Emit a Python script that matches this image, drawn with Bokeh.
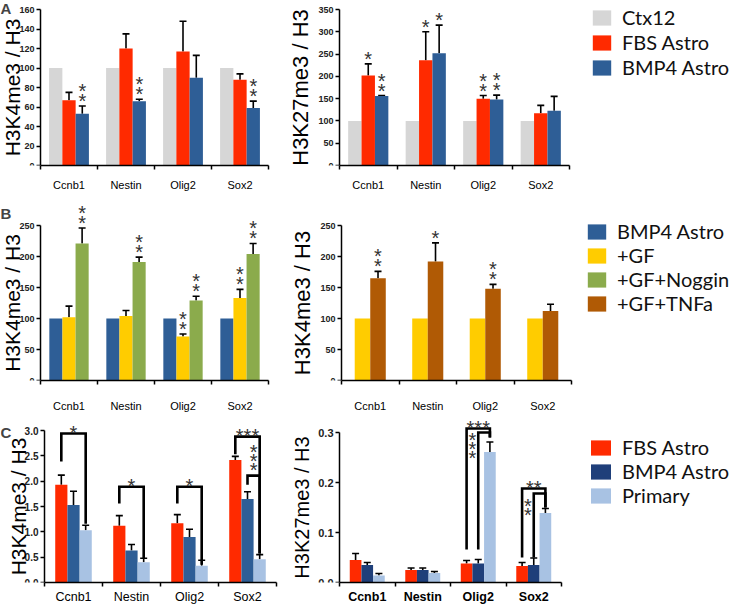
from bokeh.plotting import figure
from bokeh.models import (Range1d, FixedTicker, NumeralTickFormatter, Whisker, TeeHead,
                          ColumnDataSource, Legend, LegendItem, Label)
from bokeh.layouts import column, row
from bokeh.embed import file_html
from bokeh.resources import INLINE
from bokeh.core.properties import value

genes = ["Ccnb1", "Nestin", "Olig2", "Sox2"]

# ---------- Panel A, left: H3K4me3 / H3 ----------
a_series = ["Ctx12", "FBS Astro", "BMP4 Astro"]
a_k4_ctx = [100, 100, 100, 100]
a_k4_fbs = [67, 120, 117, 88]
a_k4_fbs_err = [8, 15, 31, 6]
a_k4_bmp = [53, 66, 90, 59]
a_k4_bmp_err = [8, 2, 23, 7]
a_k4_bmp_stars = [2, 2, 0, 2]
a_k4_ticks = [0, 20, 40, 60, 80, 100, 120, 140, 160]

# ---------- Panel A, right: H3K27me3 / H3 ----------
a_k27_ctx = [100, 100, 100, 100]
a_k27_fbs = [202, 236, 150, 117]
a_k27_fbs_err = [26, 64, 7, 18]
a_k27_fbs_stars = [1, 1, 2, 0]
a_k27_bmp = [156, 252, 148, 123]
a_k27_bmp_err = [1, 63, 10, 32]
a_k27_bmp_stars = [2, 1, 2, 0]
a_k27_ticks = [0, 50, 100, 150, 200, 250, 300, 350]

# ---------- Panel B, left: H3K4me3 / H3 ----------
b_series_l = ["BMP4 Astro", "+GF", "+GF+Noggin"]
b_bmp = [100, 100, 100, 100]
b_gf = [102, 104, 71, 133]
b_gf_err = [18, 9, 4, 14]
b_gf_stars = [0, 0, 2, 2]
b_nog = [221, 191, 129, 204]
b_nog_err = [25, 8, 7, 17]
b_nog_stars = [2, 2, 2, 2]
b_ticks = [0, 50, 100, 150, 200, 250]

# ---------- Panel B, right ----------
b_series_r = ["+GF", "+GF+TNFa"]
b_gf_r = [100, 100, 100, 100]
b_tnf = [165, 192, 148, 112]
b_tnf_err = [11, 30, 7, 11]
b_tnf_stars = [2, 1, 2, 0]
b_legend = ["BMP4 Astro", "+GF", "+GF+Noggin", "+GF+TNFa"]

# ---------- Panel C, left: H3K4me3 / H3 ----------
c_series = ["FBS Astro", "BMP4 Astro", "Primary"]
c_k4_fbs = [1.93, 1.12, 1.17, 2.42]
c_k4_fbs_err = [0.19, 0.20, 0.17, 0.07]
c_k4_bmp = [1.53, 0.63, 0.90, 1.65]
c_k4_bmp_err = [0.27, 0.12, 0.15, 0.14]
c_k4_pri = [1.03, 0.40, 0.33, 0.46]
c_k4_pri_err = [0.10, 0.08, 0.11, 0.09]
c_k4_ticks = [0.0, 0.5, 1.0, 1.5, 2.0, 2.5, 3.0]
c_k4_br_gene = [0, 1, 2, 3, 3]
c_k4_br_from = [0, 0, 0, 0, 1]
c_k4_br_to = [2, 2, 2, 2, 2]
c_k4_br_top = [2.94, 1.89, 1.89, 2.88, 2.11]
c_k4_br_low_from = [2.39, 1.56, 1.56, 2.53, 1.93]
c_k4_br_low_to = [1.16, 0.48, 0.35, 0.57, 0.57]
c_k4_br_text = ["*", "*", "*", "***", "***"]
c_k4_br_vertical = [False, False, False, False, True]
c_k4_br_label_pos = [1.0, 1.0, 1.0, 1.0, 1.5]
c_k4_br_label_y = [2.94, 1.89, 1.89, 2.88, 2.49]

# ---------- Panel C, right: H3K27me3 / H3 ----------
c_k27_fbs = [0.045, 0.025, 0.038, 0.033]
c_k27_fbs_err = [0.013, 0.004, 0.006, 0.007]
c_k27_bmp = [0.035, 0.025, 0.038, 0.035]
c_k27_bmp_err = [0.005, 0.004, 0.008, 0.014]
c_k27_pri = [0.014, 0.019, 0.261, 0.139]
c_k27_pri_err = [0.004, 0.003, 0.020, 0.009]
c_k27_ticks = [0.0, 0.1, 0.2, 0.3]
c_k27_br_gene = [2, 2, 3, 3]
c_k27_br_from = [0, 1, 0, 1]
c_k27_br_to = [2, 2, 2, 2]
c_k27_br_top = [0.308, 0.300, 0.188, 0.178]
c_k27_br_low_from = [0.066, 0.066, 0.05, 0.05]
c_k27_br_low_to = [0.29, 0.29, 0.15, 0.15]
c_k27_br_text = ["***", "***", "**", "**"]
c_k27_br_vertical = [False, True, False, True]
c_k27_br_label_pos = [1.0, 0.5, 1.0, 0.5]
c_k27_br_label_y = [0.308, 0.277, 0.188, 0.155]

GREY = "#d6d6d6"
RED = "#ff2a00"
BLUE = "#2e5e96"
YELLOW = "#ffcc00"
GREEN = "#8bab4c"
BROWN = "#b05a05"
LIGHTBLUE = "#a8c2e3"
NAVY = "#1f3f7a"

FONT = "Liberation Sans"
LEG_FONT = "Lato"
STAR_GAP = 5
STAR_STEP = 10


def bar_panel(series, colors, means, errs, stars, yticks, ylabel, fmt, geom, bar_w,
              ytick_size="9px", xlab_size="11px", xlab_bold=False, ylab_size="21px",
              ylab_standoff=-8, xlab_standoff=7):
    # geom: figure width, axis x inside figure, px per category, frame height,
    #       bottom border, px height of the axis from 0 to last tick
    fig_w, axis_x, cat_px, frame_h, bb, axis_px = geom
    n = len(series)
    x_lo = -axis_x / cat_px
    x_hi = (fig_w - axis_x) / cat_px
    y_hi = frame_h * yticks[-1] / axis_px
    p = figure(frame_width=fig_w, frame_height=frame_h,
               x_range=Range1d(x_lo, x_hi), y_range=Range1d(0, y_hi),
               min_border_left=0, min_border_right=0, min_border_top=0,
               min_border_bottom=bb, output_backend="svg", toolbar_location=None)
    p.outline_line_color = None
    p.xgrid.visible = False
    p.ygrid.visible = False
    rends = []
    pos = {}
    sx, sy, so = [], [], []
    for j in range(n):
        xs = [i + 0.5 + (j - (n - 1) / 2) * bar_w for i in range(len(genes))]
        pos[j] = xs
        data = dict(x=xs, top=means[j])
        if errs[j] is not None:
            data["upper"] = [m + e for m, e in zip(means[j], errs[j])]
        src = ColumnDataSource(data)
        r = p.vbar(x="x", top="top", width=bar_w, fill_color=colors[j],
                   line_color=None, source=src)
        rends.append(r)
        if errs[j] is not None:
            p.add_layout(Whisker(source=src, base="x", lower="top", upper="upper",
                                 line_width=1.6, line_color="black",
                                 upper_head=TeeHead(size=7, line_width=1.6, line_color="black"),
                                 lower_head=None))
        if stars[j] is not None:
            base = data["upper"] if errs[j] is not None else means[j]
            for i in range(len(genes)):
                for k in range(stars[j][i]):
                    sx.append(xs[i])
                    sy.append(base[i])
                    so.append(-(STAR_GAP + STAR_STEP * k))
    if sx:
        p.text(x=sx, y=sy, y_offset=so, text=["*"] * len(sx), text_align="center",
               text_baseline="middle", text_font=value(FONT), text_font_size="20px",
               text_color="#333333")

    ya = p.yaxis[0]
    ya.fixed_location = 0
    ya.ticker = FixedTicker(ticks=yticks)
    ya.bounds = (yticks[0], yticks[-1])
    ya.formatter = NumeralTickFormatter(format=fmt)
    ya.axis_label = ylabel
    ya.axis_label_text_font = FONT
    ya.axis_label_text_font_style = "normal"
    ya.axis_label_text_font_size = ylab_size
    ya.axis_label_text_color = "black"
    ya.axis_label_standoff = ylab_standoff
    ya.major_label_text_font = FONT
    ya.major_label_text_font_style = "bold"
    ya.major_label_text_font_size = ytick_size
    ya.major_label_text_color = "#222222"
    ya.major_label_standoff = 2
    ya.major_tick_out = 4
    ya.major_tick_in = 0
    ya.minor_tick_line_color = None
    ya.axis_line_width = 1.5
    ya.major_tick_line_width = 1.5

    xa = p.xaxis[0]
    xa.ticker = FixedTicker(ticks=[i + 0.5 for i in range(len(genes))],
                            minor_ticks=list(range(len(genes) + 1)))
    xa.major_label_overrides = {i + 0.5: g for i, g in enumerate(genes)}
    xa.bounds = (0, len(genes))
    xa.major_tick_line_color = None
    xa.major_tick_out = 0
    xa.major_tick_in = 0
    xa.minor_tick_out = 4
    xa.minor_tick_in = 0
    xa.minor_tick_line_width = 1.5
    xa.axis_line_width = 1.5
    xa.major_label_standoff = xlab_standoff
    xa.major_label_text_font = FONT
    xa.major_label_text_font_size = xlab_size
    xa.major_label_text_font_style = "bold" if xlab_bold else "normal"
    xa.major_label_text_color = "black"
    return p, rends, pos, (x_lo, y_hi, frame_h)


def add_brackets(p, pos, gene, frm, to, top, low_from, low_to, texts, vertical, lpos, ly):
    xs, ys = [], []
    lx, lyy, lt, lo = [], [], [], []
    for b in range(len(gene)):
        g = gene[b]
        x0 = pos[frm[b]][g]
        x1 = pos[to[b]][g]
        xs.append([x0, x0, x1, x1])
        ys.append([low_from[b], top[b], top[b], low_to[b]])
        f = lpos[b]
        j0 = int(f)
        frac = f - j0
        xa = pos[j0][g] if frac == 0 else pos[j0][g] + frac * (pos[j0 + 1][g] - pos[j0][g])
        if vertical[b]:
            m = len(texts[b])
            for k in range(m):
                lx.append(xa)
                lyy.append(ly[b])
                lt.append("*")
                lo.append((k - (m - 1) / 2) * 9 + 5)
        else:
            lx.append(xa)
            lyy.append(ly[b])
            lt.append(texts[b])
            lo.append(-1)
    p.multi_line(xs=xs, ys=ys, line_color="black", line_width=2.6, line_join="miter")
    p.text(x=lx, y=lyy, y_offset=lo, text=lt, text_align="center", text_baseline="middle",
           text_font=value(FONT), text_font_size="20px", text_color="#333333")


def style_legend(items, loc, spacing, glyph_w):
    lg = Legend(items=items, location=loc)
    lg.label_text_font = LEG_FONT
    lg.label_text_font_size = "20px"
    lg.label_text_color = "#111111"
    lg.glyph_width = glyph_w
    lg.glyph_height = 19
    lg.label_standoff = 9
    lg.spacing = spacing
    lg.padding = 0
    lg.margin = 0
    lg.border_line_color = None
    lg.background_fill_alpha = 0
    return lg


def panel_letter(p, info, text, px_below_top, axis_px, top_tick):
    x_lo, y_hi, frame_h = info
    per_px = top_tick / axis_px
    p.add_layout(Label(x=x_lo, y=y_hi - px_below_top * per_px, text=text,
                       text_font=FONT, text_font_style="bold", text_font_size="15px",
                       text_baseline="top", text_align="left"))


# ---- Row A ----
gA1 = (270, 40, 57, 165, 35, 156)
pA1, rA1, _, iA1 = bar_panel(a_series, [GREY, RED, BLUE], [a_k4_ctx, a_k4_fbs, a_k4_bmp],
                             [None, a_k4_fbs_err, a_k4_bmp_err], [None, None, a_k4_bmp_stars],
                             a_k4_ticks, "H3K4me3 / H3", "0", gA1, 0.233, xlab_standoff=9)
panel_letter(pA1, iA1, "A", -1, 156, a_k4_ticks[-1])
gA2 = (460, 69, 57.5, 165, 35, 156)
pA2, rA2, _, _ = bar_panel(a_series, [GREY, RED, BLUE], [a_k27_ctx, a_k27_fbs, a_k27_bmp],
                           [None, a_k27_fbs_err, a_k27_bmp_err], [None, a_k27_fbs_stars, a_k27_bmp_stars],
                           a_k27_ticks, "H3K27me3 / H3", "0", gA2, 0.233, ylab_size="22px",
                           ylab_standoff=2, xlab_standoff=9)
pA2.add_layout(style_legend([LegendItem(label=s, renderers=[r]) for s, r in zip(a_series, rA2)],
                            (320, 86), 1, 23))

# ---- Row B ----
gB1 = (270, 40, 57, 180, 33, 155)
pB1, rB1, _, iB1 = bar_panel(b_series_l, [BLUE, YELLOW, GREEN], [b_bmp, b_gf, b_nog],
                             [None, b_gf_err, b_nog_err], [None, b_gf_stars, b_nog_stars],
                             b_ticks, "H3K4me3 / H3", "0", gB1, 0.23, xlab_standoff=15)
panel_letter(pB1, iB1, "B", 4, 155, b_ticks[-1])
gB2 = (460, 71, 57.5, 180, 33, 155)
pB2, rB2, posB2, _ = bar_panel(b_series_r, [YELLOW, BROWN], [b_gf_r, b_tnf],
                               [None, b_tnf_err], [None, b_tnf_stars],
                               b_ticks, "H3K4me3 / H3", "0", gB2, 0.27, ylab_size="22px",
                               ylab_standoff=2, xlab_standoff=15)
# hidden renderers so that the shared legend can show the left panel's series
hid_bmp = pB2.vbar(x=posB2[0], top=b_bmp, width=0.27, fill_color=BLUE, line_color=None, visible=False)
hid_nog = pB2.vbar(x=posB2[1], top=b_nog, width=0.27, fill_color=GREEN, line_color=None, visible=False)
leg_b_rends = [hid_bmp, rB2[0], hid_nog, rB2[1]]
pB2.add_layout(style_legend([LegendItem(label=s, renderers=[r]) for s, r in zip(b_legend, leg_b_rends)],
                            (315, 65), -1, 23))

# ---- Row C ----
gC1 = (278, 44, 58, 168, 17, 152)
pC1, rC1, posC1, iC1 = bar_panel(c_series, [RED, BLUE, LIGHTBLUE], [c_k4_fbs, c_k4_bmp, c_k4_pri],
                                 [c_k4_fbs_err, c_k4_bmp_err, c_k4_pri_err], [None, None, None],
                                 c_k4_ticks, "H3K4me3 / H3", "0.0", gC1, 0.21,
                                 ytick_size="10px", xlab_size="12.5px", xlab_standoff=3)
add_brackets(pC1, posC1, c_k4_br_gene, c_k4_br_from, c_k4_br_to, c_k4_br_top, c_k4_br_low_from,
             c_k4_br_low_to, c_k4_br_text, c_k4_br_vertical, c_k4_br_label_pos, c_k4_br_label_y)
panel_letter(pC1, iC1, "C", 9, 152, c_k4_ticks[-1])
gC2 = (452, 61, 55.5, 168, 17, 150)
pC2, rC2, posC2, _ = bar_panel(c_series, [RED, NAVY, LIGHTBLUE], [c_k27_fbs, c_k27_bmp, c_k27_pri],
                               [c_k27_fbs_err, c_k27_bmp_err, c_k27_pri_err], [None, None, None],
                               c_k27_ticks, "H3K27me3 / H3", "0.0", gC2, 0.21,
                               ytick_size="11px", xlab_size="12.5px", xlab_bold=True, ylab_size="20px",
                               ylab_standoff=2, xlab_standoff=3)
add_brackets(pC2, posC2, c_k27_br_gene, c_k27_br_from, c_k27_br_to, c_k27_br_top, c_k27_br_low_from,
             c_k27_br_low_to, c_k27_br_text, c_k27_br_vertical, c_k27_br_label_pos, c_k27_br_label_y)
pC2.add_layout(style_legend([LegendItem(label=s, renderers=[r]) for s, r in zip(c_series, rC2)],
                            (310, 75), -2, 25))

layout = column(row(pA1, pA2), row(pB1, pB2), row(pC1, pC2))
open("out.html", "w").write(file_html(layout, INLINE))
